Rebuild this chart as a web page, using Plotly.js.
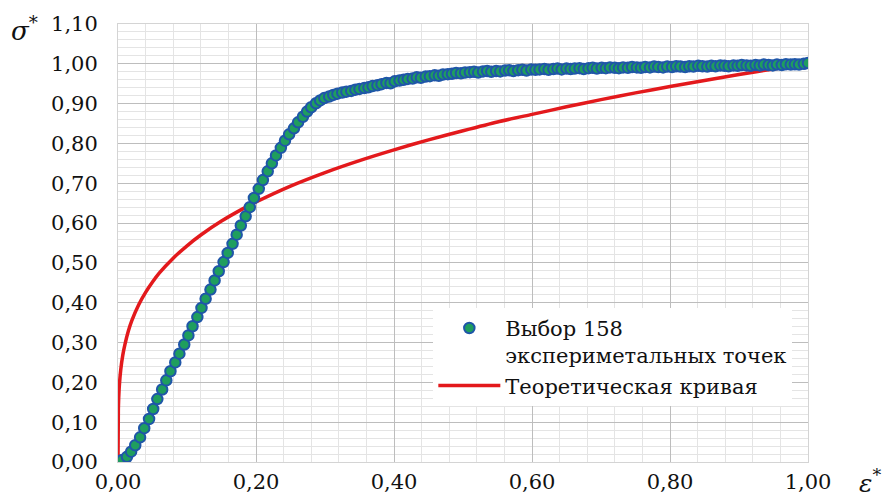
<!DOCTYPE html>
<html>
<head>
<meta charset="utf-8">
<script src="https://cdn.plot.ly/plotly-3.0.1.min.js"></script>
<style>html,body{margin:0;padding:0;background:#fff;}#chart{width:890px;height:496px;}</style>
</head>
<body>
<div id="chart"></div>
<script>
// Experimental points (158) — strain ε* and stress σ*
const expX = [0.000,0.006,0.013,0.019,0.025,0.032,0.038,0.045,0.051,0.057,
0.064,0.070,0.076,0.083,0.089,0.096,0.102,0.108,0.115,0.121,
0.127,0.134,0.140,0.146,0.153,0.159,0.166,0.172,0.178,0.185,
0.191,0.197,0.204,0.210,0.217,0.223,0.229,0.236,0.242,0.248,
0.255,0.261,0.268,0.274,0.280,0.287,0.293,0.299,0.306,0.312,
0.318,0.325,0.331,0.338,0.344,0.350,0.357,0.363,0.369,0.376,
0.382,0.389,0.395,0.401,0.408,0.414,0.420,0.427,0.433,0.439,
0.446,0.452,0.459,0.465,0.471,0.478,0.484,0.490,0.497,0.503,
0.510,0.516,0.522,0.529,0.535,0.541,0.548,0.554,0.561,0.567,
0.573,0.580,0.586,0.592,0.599,0.605,0.611,0.618,0.624,0.631,
0.637,0.643,0.650,0.656,0.662,0.669,0.675,0.682,0.688,0.694,
0.701,0.707,0.713,0.720,0.726,0.732,0.739,0.745,0.752,0.758,
0.764,0.771,0.777,0.783,0.790,0.796,0.803,0.809,0.815,0.822,
0.828,0.834,0.841,0.847,0.854,0.860,0.866,0.873,0.879,0.885,
0.892,0.898,0.904,0.911,0.917,0.924,0.930,0.936,0.943,0.949,
0.955,0.962,0.968,0.975,0.981,0.987,0.994,1.000];
const expY = [0.000,0.005,0.013,0.026,0.042,0.062,0.085,0.108,0.133,0.158,
0.182,0.205,0.228,0.250,0.272,0.295,0.318,0.341,0.364,0.387,
0.410,0.433,0.456,0.479,0.502,0.525,0.548,0.571,0.594,0.617,
0.640,0.663,0.686,0.708,0.730,0.750,0.770,0.789,0.807,0.823,
0.838,0.853,0.867,0.880,0.891,0.901,0.908,0.914,0.918,0.922,
0.925,0.928,0.930,0.932,0.935,0.937,0.939,0.941,0.944,0.946,
0.949,0.952,0.951,0.956,0.958,0.960,0.962,0.963,0.966,0.965,
0.968,0.969,0.971,0.970,0.973,0.974,0.975,0.977,0.976,0.978,
0.979,0.980,0.978,0.981,0.982,0.980,0.982,0.981,0.983,0.984,
0.982,0.984,0.985,0.983,0.986,0.985,0.986,0.987,0.985,0.987,
0.988,0.986,0.988,0.987,0.988,0.989,0.987,0.989,0.990,0.988,
0.990,0.989,0.991,0.990,0.989,0.991,0.990,0.992,0.991,0.990,
0.992,0.991,0.993,0.992,0.991,0.993,0.992,0.994,0.993,0.992,
0.994,0.993,0.995,0.994,0.993,0.995,0.994,0.996,0.995,0.994,
0.996,0.995,0.997,0.996,0.995,0.997,0.996,0.998,0.997,0.996,
0.998,0.997,0.999,0.998,0.999,0.998,1.000,1.002];

// Theoretical curve
const theoX = [0,0.0005,0.001,0.002,0.004,0.007,0.01,0.015,0.02,0.03,0.04,0.05,0.06,0.08,0.10,0.12,0.15,0.18,0.20,0.25,0.30,0.35,0.40,0.45,0.50,0.55,0.60,0.65,0.70,0.75,0.80,0.85,0.90,0.95,1.00];
const theoY = [0,0.133,0.160,0.193,0.232,0.269,0.295,0.329,0.355,0.395,0.426,0.452,0.475,0.512,0.543,0.570,0.605,0.635,0.653,0.693,0.727,0.757,0.784,0.809,0.832,0.854,0.873,0.892,0.910,0.927,0.943,0.958,0.973,0.987,1.000];

const seriesNames = ["Выбор 158<br>экспериметальных точек", "Теоретическая кривая"];

const xTickVals = [0,0.2,0.4,0.6,0.8,1.0];
const xTickText = ["0,00","0,20","0,40","0,60","0,80","1,00"];
const yTickVals = [0,0.1,0.2,0.3,0.4,0.5,0.6,0.7,0.8,0.9,1.0,1.1];
const yTickText = ["0,00","0,10","0,20","0,30","0,40","0,50","0,60","0,70","0,80","0,90","1,00","1,10"];

const serif = "DejaVu Serif";

const traces = [
  {
    x: theoX, y: theoY, type: "scatter", mode: "lines",
    name: seriesNames[1], legendrank: 2,
    line: {color: "#e3191c", width: 3.5, shape: "spline", smoothing: 0.6}
  },
  {
    x: expX, y: expY, type: "scatter", mode: "markers",
    name: seriesNames[0], legendrank: 1,
    marker: {size: 10.5, color: "#1f9e5e", line: {color: "#1f56a8", width: 2}}
  }
];

const layout = {
  width: 890, height: 496,
  margin: {l: 118, r: 82, t: 24, b: 34},
  paper_bgcolor: "#ffffff", plot_bgcolor: "#ffffff",
  font: {family: serif},
  showlegend: true,
  legend: {
    x: 0.457, y: 0.352, xanchor: "left", yanchor: "top",
    bgcolor: "#ffffff", borderwidth: 0,
    font: {family: serif, size: 21, color: "#111"},
    valign: "top", itemwidth: 62, tracegroupgap: 0
  },
  xaxis: {
    range: [0, 1], tickvals: xTickVals, ticktext: xTickText,
    tickfont: {family: serif, size: 21, color: "#111"},
    showgrid: true, gridcolor: "#bdbdbd", gridwidth: 1,
    minor: {dtick: 0.04, tick0: 0, showgrid: true, gridcolor: "#e4e4e4", gridwidth: 1},
    zeroline: false, showline: true, mirror: true, linecolor: "#d4d4d4", linewidth: 1,
    ticks: "", ticklabelstandoff: 1, fixedrange: true
  },
  yaxis: {
    range: [0, 1.1], tickvals: yTickVals, ticktext: yTickText,
    tickfont: {family: serif, size: 21, color: "#111"},
    showgrid: true, gridcolor: "#bdbdbd", gridwidth: 1,
    minor: {dtick: 0.02, tick0: 0, showgrid: true, gridcolor: "#e4e4e4", gridwidth: 1},
    zeroline: false, showline: true, mirror: true, linecolor: "#d4d4d4", linewidth: 1,
    ticks: "", ticklabelstandoff: 15, fixedrange: true
  },
  annotations: [
    {xref: "paper", yref: "paper", x: -0.136, y: 0.988, xanchor: "center", yanchor: "middle",
     text: "<i>σ</i><sup>*</sup>", showarrow: false, font: {family: serif, size: 26, color: "#111"}},
    {xref: "paper", yref: "paper", x: 1.09, y: -0.045, xanchor: "center", yanchor: "middle",
     text: "<i>ε</i><sup>*</sup>", showarrow: false, font: {family: serif, size: 25, color: "#111"}}
  ]
};

Plotly.newPlot("chart", traces, layout, {displayModeBar: false, staticPlot: true});
</script>
</body>
</html>
